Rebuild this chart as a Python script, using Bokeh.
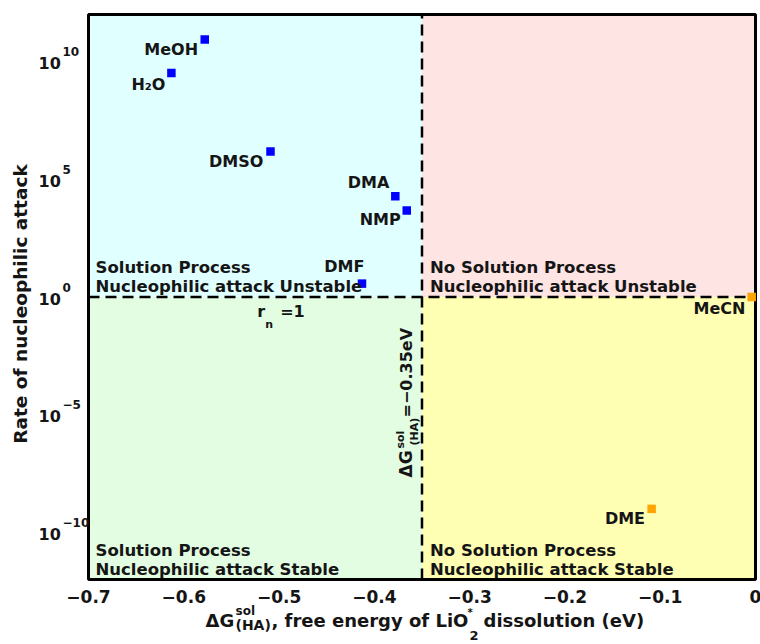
from bokeh.plotting import figure
from bokeh.models import Range1d, ColumnDataSource
from bokeh.core.properties import value
from bokeh.embed import file_html
from bokeh.resources import INLINE
import math

# ---------------- data ----------------
solvents = ["MeOH", "H₂O", "DMSO", "DMA", "NMP", "DMF", "MeCN", "DME"]
dg_sol = [-0.578, -0.613, -0.509, -0.378, -0.366, -0.413, -0.004, -0.109]
rate_nuc = [8.7e10, 3.3e9, 1.5e6, 1.9e4, 4.7e3, 3.7, 1.0, 1.0e-9]
process = ["solution", "solution", "solution", "solution", "solution", "solution",
           "no solution", "no solution"]

dg_threshold = -0.35
rn_threshold = 1.0

x_min, x_max = -0.7, 0.0
y_min, y_max = 1e-12, 1e12

x_ticks = [-0.7, -0.6, -0.5, -0.4, -0.3, -0.2, -0.1, 0.0]
x_tick_labels = ["−0.7", "−0.6", "−0.5", "−0.4", "−0.3", "−0.2", "−0.1", "0"]
y_ticks = [1e-10, 1e-5, 1.0, 1e5, 1e10]
y_tick_base = "10"
y_tick_exponents = ["−10", "−5", "0", "5", "10"]

region_line1 = ["Solution Process", "No Solution Process", "Solution Process", "No Solution Process"]
region_line2 = ["Nucleophilic attack Unstable", "Nucleophilic attack Unstable",
                "Nucleophilic attack Stable", "Nucleophilic attack Stable"]

# ---------------- style / layout ----------------
FONT = value("DejaVu Sans")
TXT = "#151515"
BL = 0.37          # alphabetic-baseline correction (fraction of font size)
color_map = {"solution": "#0000ff", "no solution": "#ffa500"}
label_dx = [-6.7, -6.0, -7.2, -6.0, -6.0, 2.5, -6.3, -6.6]
label_dy = [16.0, 17.5, 15.7, -8.0, 15.0, -11.0, 17.0, 15.5]

W, H = 760, 644
box_left, box_right, box_top, box_bottom = 88, 755, 14, 579   # pixel box of the axes
px_x = (box_right - box_left) / (x_max - x_min)
px_dec = (box_bottom - box_top) / (math.log10(y_max) - math.log10(y_min))
xr = Range1d(x_min - box_left / px_x, x_max + (W - box_right) / px_x)
yr = Range1d(10 ** (math.log10(y_min) - (H - box_bottom) / px_dec),
             10 ** (math.log10(y_max) + box_top / px_dec))

p = figure(width=W, height=H, x_range=xr, y_range=yr, y_axis_type="log",
           x_axis_location=None, y_axis_location=None,
           output_backend="svg", toolbar_location=None, min_border=0)
p.xgrid.visible = False
p.ygrid.visible = False
p.outline_line_color = None
p.background_fill_color = "white"
p.border_fill_color = "white"

def txt(**kw):
    base = dict(text_font=FONT, text_font_style="bold", text_color=TXT,
                text_baseline="alphabetic")
    base.update(kw)
    return p.text(**base)

def fix(offsets, sizes):
    if not isinstance(offsets, list):
        offsets = [offsets] * len(sizes)
    return [o - BL * s for o, s in zip(offsets, sizes)]

# quadrant backgrounds
p.quad(left=[x_min, dg_threshold, x_min, dg_threshold],
       right=[dg_threshold, x_max, dg_threshold, x_max],
       bottom=[rn_threshold, rn_threshold, y_min, y_min],
       top=[y_max, y_max, rn_threshold, rn_threshold],
       fill_color=["#e0ffff", "#ffe4e4", "#e2fde2", "#ffffb4"], line_color=None)

# threshold lines
p.segment(x0=[dg_threshold, x_min], y0=[y_min, rn_threshold],
          x1=[dg_threshold, x_max], y1=[y_max, rn_threshold],
          line_color="black", line_width=2.5, line_dash="11 6")

# axes box
p.quad(left=[x_min], right=[x_max], bottom=[y_min], top=[y_max],
       fill_color=None, line_color="black", line_width=3)

# points
src = ColumnDataSource(dict(x=dg_sol, y=rate_nuc, name=solvents,
                            color=[color_map[g] for g in process],
                            dx=label_dx, dy=fix(label_dy, [16] * len(label_dy))))
p.scatter(x="x", y="y", marker="square", size=8.5, fill_color="color", line_color=None, source=src)
txt(x="x", y="y", text="name", x_offset="dx", y_offset="dy", source=src,
    text_align="right", text_font_size="16px")

# region labels
reg_x = [x_min, dg_threshold, x_min, dg_threshold]
reg_y = [rn_threshold, rn_threshold, y_min, y_min]
reg_dx = [7, 8, 7, 8]
txt(x=reg_x + reg_x, y=reg_y + reg_y, text=region_line1 + region_line2,
    x_offset=reg_dx + reg_dx, y_offset=fix([-23] * 4 + [-4] * 4, [16.5] * 8),
    text_align="left", text_font_size="16.5px")

# r_n = 1 label
rn_x = -0.523
txt(x=[rn_x] * 3, y=[rn_threshold] * 3, text=["r", "n", "=1"],
    x_offset=[0, 8, 23], y_offset=fix([20.5, 31.5, 20.5], [16, 11, 16]),
    text_font_size=["16px", "11px", "16px"], text_align="left")

# rotated threshold label
rot_fs = [17, 11, 11, 16]
txt(x=[dg_threshold] * 4, y=[rn_threshold] * 4,
    text=["ΔG", "sol", "(HA)", "=−0.35eV"],
    x_offset=fix([-9.5, -17, -3.5, -9.5], rot_fs), y_offset=[180.5, 151.5, 148.5, 120.5],
    text_font_size=[f"{s}px" for s in rot_fs],
    angle=math.pi / 2, text_align="left")

# x tick labels
txt(x=x_ticks, y=[y_min] * len(x_ticks), text=x_tick_labels,
    y_offset=fix(23, [17] * len(x_ticks)),
    text_align="center", text_font_size="17px")

# y tick labels (base + superscript exponent)
n = len(y_ticks)
txt(x=[x_min] * n, y=y_ticks, text=[y_tick_base] * n, x_offset=-50, y_offset=1.5,
    text_align="left", text_baseline="middle", text_font_size="16px")
txt(x=[x_min] * n, y=y_ticks, text=y_tick_exponents, x_offset=-26, y_offset=-10,
    text_align="left", text_baseline="middle", text_font_size="12px")

# y axis title
txt(x=[x_min], y=[rn_threshold], text=["Rate of nucleophilic attack"], angle=math.pi / 2,
    x_offset=fix(-61, [18.5]), y_offset=7, text_align="center", text_font_size="18.5px")

# x axis title pieces
x_title = ["ΔG", "sol", "(HA)", ", free energy of LiO", "*", "2", "dissolution (eV)"]
xt_dx = [117, 147, 147, 183, 379, 381, 395]
xt_dy = [48, 36, 51, 48, 37, 61, 48]
xt_fs = [18, 12, 14, 18, 10, 13, 18]
txt(x=[x_min] * len(x_title), y=[y_min] * len(x_title), text=x_title,
    x_offset=xt_dx, y_offset=fix(xt_dy, xt_fs),
    text_font_size=[f"{s}px" for s in xt_fs], text_align="left")

open("out.html", "w").write(file_html(p, INLINE))
